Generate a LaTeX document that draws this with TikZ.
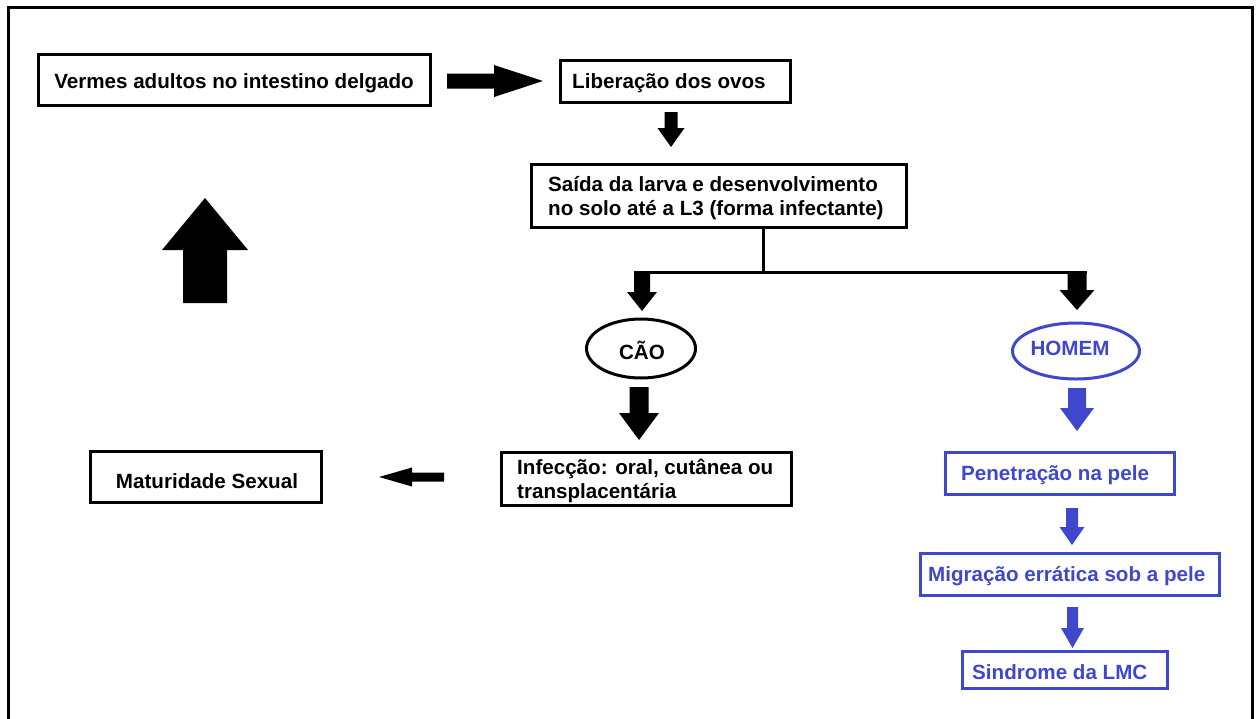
\documentclass[tikz,border=0pt]{standalone}
\usepackage{fontspec}
\setmainfont{Liberation Sans}
\usetikzlibrary{shapes.geometric}
\definecolor{paintblue}{RGB}{63,72,204}
\newcommand{\varrow}[7][black]{%
  \fill[#1] (#2-#5,#3) -- (#2+#5,#3) -- (#2+#5,#7) -- (#2+#6,#7) -- (#2,#4) -- (#2-#6,#7) -- (#2-#5,#7) -- cycle;}
\newcommand{\harrow}[7][black]{%
  \fill[#1] (#3,#2-#5) -- (#7,#2-#5) -- (#7,#2-#6) -- (#4,#2) -- (#7,#2+#6) -- (#7,#2+#5) -- (#3,#2+#5) -- cycle;}
\begin{document}
\begin{tikzpicture}[x=1pt,y=-1pt,
  every node/.style={font=\bfseries\fontsize{20.6}{24.5}\selectfont},
  bbox/.style={draw=black,line width=3pt,rectangle,inner sep=0pt},
  bluebox/.style={bbox,draw=paintblue},
  txt/.style={inner sep=0pt,align=left,anchor=west},
  ctxt/.style={inner sep=0pt,align=center},
  oval/.style={draw=black,line width=3pt,ellipse,inner sep=0pt}]
\useasboundingbox (0,0) rectangle (1256,718);
\draw[line width=3pt] (8.5,722) -- (8.5,7.7) -- (1252.5,7.7) -- (1252.5,722);

% black boxes
\node[bbox,minimum width=392pt,minimum height=51pt] (vermes) at (234.5,79.5) {};
\node[ctxt] (vermest) at (234,83) {Vermes adultos no intestino delgado};
\node[bbox,minimum width=230pt,minimum height=42pt] (lib) at (675.5,81.5) {};
\node[txt] (libt) at (572,83.5) {Liberação dos ovos};
\node[bbox,minimum width=375pt,minimum height=63pt] (saida) at (719,196) {};
\node[txt] (saidat) at (548,198) {Saída da larva e desenvolvimento\\no solo até a L3 (forma infectante)};
\node[oval,minimum width=109pt,minimum height=59pt] (cao) at (641,348.5) {};
\node[ctxt] (caot) at (642,350) {CÃO};
\node[bbox,minimum width=290pt,minimum height=53pt] (inf) at (646.5,479) {};
\node[txt] (inft) at (517,481) {Infecção: oral, cutânea ou\\transplacentária};
\node[bbox,minimum width=231pt,minimum height=51pt] (mat) at (206,477) {};
\node[ctxt] (matt) at (207,481) {Maturidade Sexual};

% blue part
\node[oval,draw=paintblue,minimum width=127pt,minimum height=56pt] (homem) at (1076,351) {};
\node[ctxt,text=paintblue] (homemt) at (1070,348) {HOMEM};
\node[bluebox,minimum width=229pt,minimum height=42pt] (pen) at (1060,473.5) {};
\node[txt,text=paintblue] (pent) at (961,475) {Penetração na pele};
\node[bluebox,minimum width=299pt,minimum height=42pt] (mig) at (1070,574.5) {};
\node[txt,text=paintblue] (migt) at (928,576) {Migração errática sob a pele};
\node[bluebox,minimum width=205pt,minimum height=37pt] (sin) at (1065,670) {};
\node[txt,text=paintblue] (sint) at (972,672) {Sindrome da LMC};

% junction lines
\coordinate (j) at (763,272);
\coordinate (jl) at (634,272);
\coordinate (jr) at (1087,272);
\draw[line width=3pt] (saida.south -| j) -- (j);
\draw[line width=3pt] (jl) -- (jr);

% block arrows
\harrow{81}{447}{543}{7.5}{16}{494}
\varrow{671}{112}{147}{6.5}{13.5}{128}
\varrow{642}{271}{311}{8}{15}{292}
\varrow{1077}{271}{310}{9.5}{17.5}{290}
\varrow{639}{387}{440}{9.5}{20}{413}
\harrow{477}{444}{379}{4.5}{9.5}{412}
\varrow{205}{303}{198}{22}{43}{250}
\varrow[paintblue]{1077}{388}{431}{9}{17}{408}
\varrow[paintblue]{1072}{508}{545}{6}{12.5}{527}
\varrow[paintblue]{1072.5}{607}{648}{5.5}{11.5}{628}
\end{tikzpicture}
\end{document}
